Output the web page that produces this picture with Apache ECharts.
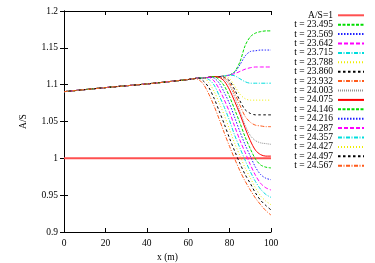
<!DOCTYPE html>
<html>
<head>
<meta charset="utf-8">
<script src="https://cdn.jsdelivr.net/npm/echarts@6/dist/echarts.min.js"></script>
<style>
html,body{margin:0;padding:0;background:#fff;}
#chart{width:375px;height:263px;}
</style>
</head>
<body>
<div id="chart"></div>
<script>
// x positions (m)
const xs = [0, 20, 40, 60, 62.5, 65, 67.5, 70, 72.5, 75, 77.5, 80, 82.5, 85, 87.5, 90, 92.5, 95, 97.5, 100];
// reference line A/S = 1
const refX = [0, 100];
const refY = [1, 1];

const seriesNames = ['t = 23.495','t = 23.569','t = 23.642','t = 23.715','t = 23.788','t = 23.860','t = 23.932','t = 24.003',
  't = 24.075','t = 24.146','t = 24.216','t = 24.287','t = 24.357','t = 24.427','t = 24.497','t = 24.567'];

const t23495 = [1.0905,1.096,1.101,1.107,1.108,1.109,1.109,1.110,1.111,1.111,1.112,1.113,1.118,1.131,1.153,1.165,1.170,1.172,1.173,1.173];
const t23569 = [1.0905,1.096,1.101,1.107,1.108,1.109,1.109,1.110,1.111,1.111,1.112,1.113,1.117,1.127,1.139,1.145,1.146,1.147,1.147,1.147];
const t23642 = [1.0905,1.096,1.101,1.107,1.108,1.109,1.109,1.110,1.111,1.111,1.112,1.113,1.115,1.118,1.121,1.123,1.124,1.124,1.124,1.124];
const t23715 = [1.0905,1.096,1.101,1.107,1.108,1.109,1.109,1.110,1.111,1.111,1.112,1.113,1.112,1.108,1.104,1.102,1.102,1.102,1.102,1.102];
const t23788 = [1.0905,1.096,1.101,1.107,1.108,1.109,1.109,1.110,1.111,1.111,1.112,1.108,1.098,1.087,1.081,1.079,1.079,1.079,1.079,1.079];
const t23860 = [1.0905,1.096,1.101,1.107,1.108,1.109,1.109,1.110,1.111,1.111,1.110,1.105,1.093,1.078,1.066,1.061,1.059,1.059,1.059,1.059];
const t23932 = [1.0905,1.096,1.101,1.107,1.108,1.109,1.109,1.110,1.111,1.110,1.109,1.102,1.088,1.072,1.057,1.049,1.045,1.044,1.043,1.043];
const t24003 = [1.0905,1.096,1.101,1.107,1.108,1.109,1.109,1.110,1.111,1.110,1.107,1.099,1.083,1.064,1.045,1.031,1.024,1.021,1.020,1.019];
const t24075 = [1.0905,1.096,1.101,1.107,1.108,1.109,1.109,1.110,1.111,1.110,1.1045,1.093,1.077,1.060,1.041,1.024,1.011,1.005,1.003,1.003];
const t24146 = [1.0905,1.096,1.101,1.107,1.108,1.109,1.109,1.110,1.111,1.1065,1.098,1.0835,1.066,1.048,1.029,1.013,0.999,0.991,0.988,0.987];
const t24216 = [1.0905,1.096,1.101,1.107,1.108,1.109,1.109,1.110,1.109,1.102,1.089,1.074,1.055,1.036,1.0185,1.003,0.988,0.978,0.973,0.971];
const t24287 = [1.0905,1.096,1.101,1.107,1.108,1.109,1.109,1.110,1.105,1.094,1.079,1.0625,1.043,1.0245,1.008,0.9915,0.977,0.966,0.960,0.957];
const t24357 = [1.0905,1.096,1.101,1.107,1.108,1.109,1.109,1.107,1.0995,1.085,1.069,1.051,1.031,1.014,0.9975,0.982,0.9685,0.958,0.951,0.947];
const t24427 = [1.0905,1.096,1.101,1.107,1.108,1.109,1.109,1.1025,1.091,1.075,1.058,1.039,1.020,1.0035,0.987,0.9735,0.960,0.949,0.942,0.937];
const t24497 = [1.0905,1.096,1.101,1.107,1.108,1.109,1.1045,1.096,1.0815,1.064,1.046,1.027,1.0095,0.993,0.978,0.966,0.953,0.943,0.936,0.930];
const t24567 = [1.0905,1.096,1.101,1.107,1.108,1.107,1.100,1.087,1.071,1.053,1.034,1.016,0.999,0.983,0.969,0.957,0.946,0.937,0.929,0.923];

const curveValues = [t23495,t23569,t23642,t23715,t23788,t23860,t23932,t24003,t24075,t24146,t24216,t24287,t24357,t24427,t24497,t24567];

// gnuplot-like styles cycling after the reference line
const styles = [
  {color:'#00dd00', type:[3,1.5]},
  {color:'#2020ff', type:[1.5,1.5]},
  {color:'#ff00ff', type:[4,2]},
  {color:'#00dddd', type:[4,1.5,1,1.5]},
  {color:'#eeee00', type:[1,2]},
  {color:'#000000', type:[2.5,2.5]},
  {color:'#ff5a1a', type:[4,1.5,1,1.5]},
  {color:'#909090', type:[1,1]},
  {color:'#ff0000', type:'solid'}
];

const FONT = "'Liberation Serif','DejaVu Serif',serif";

const series = [{
  name: 'A/S=1',
  type: 'line',
  data: refX.map((x, i) => [x, refY[i]]),
  symbol: 'none',
  legendIcon: 'none',
  lineStyle: {color: '#ff5050', width: 2},
  itemStyle: {color: '#ff5050'},
  animation: false
}];
curveValues.forEach((vals, k) => {
  const st = styles[k % styles.length];
  series.push({
    name: seriesNames[k],
    type: 'line',
    data: xs.map((x, i) => [x, vals[i]]),
    symbol: 'none',
    legendIcon: 'none',
    smooth: 0.3,
    lineStyle: {color: st.color, width: 1, type: st.type},
    itemStyle: {color: st.color},
    animation: false
  });
});

const axisCommon = {
  axisLine: {show: true, lineStyle: {color: '#000', width: 1}},
  axisTick: {show: true, inside: true, length: 4, lineStyle: {color: '#000'}},
  splitLine: {show: false}
};

const chart = echarts.init(document.getElementById('chart'), null, {renderer: 'canvas'});
chart.setOption({
  backgroundColor: '#fff',
  animation: false,
  grid: {left: 64, right: 104, top: 11, bottom: 31, containLabel: false, outerBoundsMode: 'none'},
  legend: {
    orient: 'vertical',
    left: 271,
    top: 10.3,
    padding: 0,
    align: 'right',
    itemWidth: 26,
    itemHeight: 9,
    itemGap: -0.6,
    selectedMode: false,
    itemStyle: {opacity: 0},
    data: ['A/S=1'].concat(seriesNames),
    formatter: n => '{r|' + n + '}',
    textStyle: {
      rich: {r: {width: 62, align: 'right', fontSize: 9.5, lineHeight: 9, fontFamily: FONT, color: '#000'}}
    }
  },
  xAxis: [
    Object.assign({
      type: 'value', min: 0, max: 100, interval: 20, position: 'bottom',
      name: 'x (m)', nameLocation: 'middle', nameGap: 17,
      nameTextStyle: {fontSize: 9.5, fontFamily: FONT, color: '#000'},
      axisLabel: {fontSize: 9.5, fontFamily: FONT, color: '#000', margin: 6}
    }, axisCommon),
    Object.assign({
      type: 'value', min: 0, max: 100, interval: 20, position: 'top',
      axisLabel: {show: false}
    }, axisCommon)
  ],
  yAxis: [
    Object.assign({
      type: 'value', min: 0.9, max: 1.2, interval: 0.05, position: 'left',
      name: 'A/S', nameLocation: 'middle', nameGap: 36, nameRotate: 90,
      nameTextStyle: {fontSize: 9.5, fontFamily: FONT, color: '#000'},
      axisLabel: {fontSize: 9.5, fontFamily: FONT, color: '#000', margin: 6,
        formatter: v => String(+(+v).toFixed(2))}
    }, axisCommon),
    Object.assign({
      type: 'value', min: 0.9, max: 1.2, interval: 0.05, position: 'right',
      axisLabel: {show: false}
    }, axisCommon)
  ],
  series: series
});
</script>
</body>
</html>
